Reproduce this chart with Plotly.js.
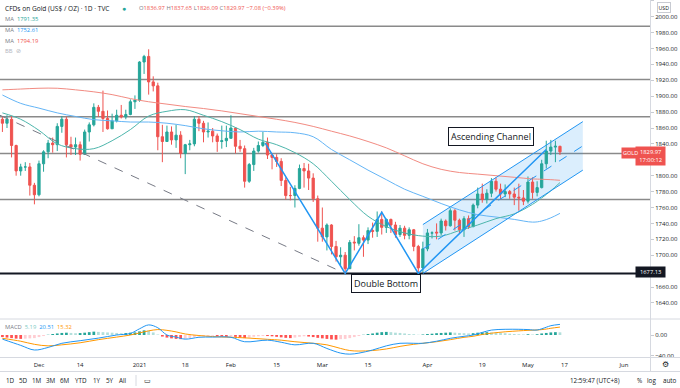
<!DOCTYPE html>
<html><head><meta charset="utf-8">
<script src="https://cdn.plot.ly/plotly-3.0.1.min.js"></script>
<style>html,body{margin:0;padding:0;background:#fff;overflow:hidden}#chart{width:680px;height:388px}</style>
</head><body><div id="chart"></div>
<script>
// ---------- DATA ----------
const dates = [
'2020-11-19','2020-11-20','2020-11-23','2020-11-24','2020-11-25','2020-11-26','2020-11-27','2020-11-30',
'2020-12-01','2020-12-02','2020-12-03','2020-12-04','2020-12-07','2020-12-08','2020-12-09','2020-12-10','2020-12-11',
'2020-12-14','2020-12-15','2020-12-16','2020-12-17','2020-12-18','2020-12-21','2020-12-22','2020-12-23','2020-12-24',
'2020-12-28','2020-12-29','2020-12-30','2020-12-31',
'2021-01-04','2021-01-05','2021-01-06','2021-01-07','2021-01-08','2021-01-11','2021-01-12','2021-01-13','2021-01-14','2021-01-15',
'2021-01-18','2021-01-19','2021-01-20','2021-01-21','2021-01-22','2021-01-25','2021-01-26','2021-01-27','2021-01-28','2021-01-29',
'2021-02-01','2021-02-02','2021-02-03','2021-02-04','2021-02-05','2021-02-08','2021-02-09','2021-02-10','2021-02-11','2021-02-12',
'2021-02-15','2021-02-16','2021-02-17','2021-02-18','2021-02-19','2021-02-22','2021-02-23','2021-02-24','2021-02-25','2021-02-26',
'2021-03-01','2021-03-02','2021-03-03','2021-03-04','2021-03-05','2021-03-08','2021-03-09','2021-03-10','2021-03-11','2021-03-12',
'2021-03-15','2021-03-16','2021-03-17','2021-03-18','2021-03-19','2021-03-22','2021-03-23','2021-03-24','2021-03-25','2021-03-26',
'2021-03-29','2021-03-30','2021-03-31',
'2021-04-01','2021-04-02','2021-04-05','2021-04-06','2021-04-07','2021-04-08','2021-04-09','2021-04-12','2021-04-13','2021-04-14',
'2021-04-15','2021-04-16','2021-04-19','2021-04-20','2021-04-21','2021-04-22','2021-04-23','2021-04-26','2021-04-27','2021-04-28',
'2021-04-29','2021-04-30',
'2021-05-03','2021-05-04','2021-05-05','2021-05-06','2021-05-07','2021-05-10','2021-05-11','2021-05-12'];

const open = [1871,1866,1871,1838,1806,1811,1811,1788,
1776,1815,1830,1841,1839,1862,1871,1839,1836,1839,1827,1855,1864,1886,1881,1872,1859,1869,1876,1874,1877,1893,
1895,1943,1950,1918,1913,1849,1843,1855,1845,1851,1828,1839,1840,1871,1866,1855,1856,1850,1843,1844,
1847,1860,1837,1834,1793,1814,1831,1838,1842,1826,1823,1818,1794,1775,1775,1784,1809,1806,1797,1771,
1734,1723,1738,1711,1698,1700,1683,1716.5,1715,1722,1719,1731,1730,1745,1735,1745,1738,1726,1734,1725,1732,1711,1684,
1708,1728,1729,1728,1743,1737,1756,1744,1732,1746,1736,1763,1777,1770,1778,1793,1783,1777,1780,1777,1773,1772,
1768,1792,1779,1785,1815,1831,1836,1836.97];
const high = [1875,1876,1875,1839,1815,1817,1816,1791,
1819,1832,1845,1848,1866,1875,1874,1849,1848,1843,1858,1867,1891,1889,1907,1882,1878,1883,1889,1883,1896,1901,
1944,1952,1959,1925,1917,1864,1863,1862,1864,1856,1840,1845,1875,1875,1869,1867,1860,1853,1863,1863,
1876,1860,1845,1838,1816,1835,1843,1855,1848,1828,1827,1822,1798,1786,1788,1814,1816,1815,1803,1775,
1760,1740,1739,1718,1710,1704,1719,1724,1739,1725,1735,1741,1755,1755,1746,1746,1742,1738,1737,1735,1733,1713,1717,
1733,1730,1740,1746,1745,1759,1758,1746,1749,1750,1765,1785,1790,1783,1797,1798,1790,1789,1782,1785,1790,1782,
1799,1798,1793,1820,1844,1845,1844,1837.65];
const low = [1855,1860,1823,1800,1800,1806,1775,1764,
1774,1805,1822,1829,1831,1854,1823,1826,1826,1819,1826,1843,1862,1874,1855,1858,1859,1867,1872,1871,1876,1884,
1893,1928,1902,1906,1832,1817,1843,1839,1835,1822,1802,1832,1837,1856,1842,1848,1842,1830,1834,1836,
1847,1828,1830,1785,1791,1806,1829,1836,1821,1808,1811,1787,1770,1769,1760,1783,1785,1782,1767,1717,
1717,1706,1701,1692,1687,1677,1683,1706,1712,1698,1714,1722,1723,1726,1728,1728,1722,1723,1720,1720,1705,1677,1678,
1705,1721,1720,1725,1731,1736,1731,1727,1723,1733,1735,1759,1766,1765,1773,1780,1770,1773,1771,1763,1756,1763,
1765,1771,1774,1784,1809,1826,1817,1826.09];
const close = [1866,1871,1838,1806,1811,1811,1788,1776,
1815,1830,1841,1839,1862,1871,1839,1836,1839,1827,1855,1864,1886,1881,1872,1859,1869,1876,1874,1877,1893,1895,
1943,1950,1918,1913,1849,1843,1855,1845,1851,1828,1839,1840,1871,1866,1855,1856,1850,1843,1844,1847,
1860,1837,1834,1793,1814,1831,1838,1842,1826,1823,1818,1794,1775,1775,1784,1809,1806,1797,1771,1734,
1723,1738,1711,1698,1700,1683,1716,1715.5,1722,1719,1731,1730,1745,1735,1745,1738,1726,1734,1725,1732,1711,1684,1708,
1728,1728,1728,1743,1737,1756,1744,1732,1746,1736,1763,1777,1770,1778,1793,1783,1777,1780,1777,1773,1772,1768,
1792,1779,1785,1815,1831,1836,1837,1829.97];

// Moving averages at sample dates
const maDates = ['2020-11-19','2020-11-25','2020-12-01','2020-12-07','2020-12-11','2020-12-17','2020-12-23','2020-12-30',
'2021-01-06','2021-01-12','2021-01-18','2021-01-22','2021-01-28','2021-02-03','2021-02-09','2021-02-15','2021-02-19','2021-02-25',
'2021-03-03','2021-03-09','2021-03-15','2021-03-19','2021-03-25','2021-03-31','2021-04-06','2021-04-12','2021-04-16','2021-04-22',
'2021-04-28','2021-05-04','2021-05-06','2021-05-10','2021-05-12'];
const ma20 = [1879,1871,1857,1840,1834,1834,1844,1858,1875,1881,1883,1876,1868,1858,1846,1839,1829,1815,1793,1770,1749,1736,1728,1724,1724,1731,1738,1746,1752,1764,1772,1781,1791.35];
const ma50 = [1901.5,1891,1885,1879,1874.5,1870.5,1869,1867.5,1867.5,1866,1863,1859,1856.5,1855,1856,1855,1854,1849,1833,1820,1807,1795,1783,1774,1765,1757,1751,1748,1745,1741.6,1743,1747,1752.61];
const ma100 = [1908,1909,1910,1910,1908,1905.5,1902,1897,1893,1890,1887,1884.5,1881.5,1878,1874.5,1871,1867,1862,1856,1850,1843,1835,1825,1815,1808,1804,1802,1800,1798,1796,1795.5,1795,1794.19];

// MACD (12,26,9)
const macdDates = ['2020-11-19','2020-11-25','2020-11-30','2020-12-03','2020-12-08','2020-12-14','2020-12-18','2020-12-24','2020-12-30',
'2021-01-04','2021-01-06','2021-01-08','2021-01-12','2021-01-14','2021-01-18','2021-01-21','2021-01-26','2021-02-01','2021-02-04',
'2021-02-11','2021-02-16','2021-02-19','2021-02-25','2021-03-02','2021-03-05','2021-03-09','2021-03-11','2021-03-16','2021-03-19',
'2021-03-24','2021-03-29','2021-03-31','2021-04-05','2021-04-08','2021-04-13','2021-04-15','2021-04-19','2021-04-21','2021-04-26',
'2021-04-29','2021-05-03','2021-05-05','2021-05-07','2021-05-10','2021-05-12'];
const macdLine = [-8,-20,-29,-24,-16,-11,-6,0,3,12,19.5,14,0,-4,-8,-4.4,-4,-4.4,-13,-10,-14,-19,-16,-26,-35,-37,-35,-29,-21,-16,-16,-16,-12,-6.4,-2.5,0,5,9.5,11,11,10.5,9.7,15,18,20.51];
const signalLine = [-6.4,-12,-18,-21,-19,-15,-9,-4,0,4,8,10.5,9,6,2,-1,-3,-4.4,-5.5,-8.3,-10,-13,-16,-19,-26,-30,-31,-30,-27,-22,-18,-16,-13,-9,-4.5,-2.5,1,3.5,6.2,8,9,9.7,11.5,13,15.32];
const histValues = [-4,-5,-6,-7,-7.5,-7,-6.5,-6,
-4,-2,0.5,2,3,4,4.5,4,3.5,3.8,4.5,5.5,6.5,6,5.5,5,4.5,4,3.5,3.8,4.5,5,
7,9,8.5,5,1,-3,-5,-6.5,-7.5,-8,-7.5,-6,-4,-3,-2.5,-2,-1.5,-2.5,-3,-3.5,
-3,-3.5,-4.5,-6,-5,-3.5,-2.5,-2,-2,-2.5,-3.5,-4.5,-5.5,-6,-5,-3.5,-2.5,-3,-4,-5.5,
-6.5,-7.5,-8.5,-9,-8,-7.5,-6,-4,-2,0.5,2,3,4.5,5.5,6,5.5,4.5,4,3,2,1.5,0.5,1,
2,2.5,3.5,4,4.5,5,4.5,4,3.5,3,3.5,4.5,5,5.5,5,4.5,4,3.5,2.5,2,1.5,1,
1.5,1,1.5,3,4,5,5.5,5.19];

const tickLabels = ['Dec','14','2021','18','Feb','15','Mar','15','Apr','19','May','17','Jun'];
const priceTicks = [1640,1660,1700,1720,1740,1760,1780,1800,1840,1860,1880,1900,1920,1940,1960,1980,2000,2020];
const levels = [1988, 1921, 1874, 1828, 1770];
const supportLevel = 1677.13;
const lastPrice = 1829.97;

// ---------- HELPERS ----------
const W = 680, H = 388, M = {l:0, r:30, t:0, b:31};
const PW = W - M.l - M.r, PH = H - M.t - M.b;
const px = x => x / PW;            // pixel -> paper x
const py = y => (PH - y) / PH;     // pixel -> paper y
const pos = d => dates.indexOf(d);
const xs = dates.map((d, i) => i);
const FONT = 'Open Sans, sans-serif';
const GREEN = '#26a69a', RED = '#ef5350';

const tickPos = [pos('2020-12-01'), pos('2020-12-14'), pos('2021-01-04'), pos('2021-01-18'), pos('2021-02-01'),
  pos('2021-02-15'), pos('2021-03-01'), pos('2021-03-15'), pos('2021-04-01'), pos('2021-04-19'), pos('2021-05-03'),
  dates.length + 0, dates.length + 13];

const histColors = histValues.map((v, i) => {
  const p = i > 0 ? histValues[i - 1] : v;
  if (v >= 0) return v >= p ? '#26a69a' : '#b2dfdb';
  return v <= p ? '#ff5252' : '#ffcdd2';
});

const traces = [
  {type:'scatter', mode:'lines', x:maDates.map(pos), y:ma100, line:{color:'#f28b82', width:1, shape:'spline'}, hoverinfo:'skip'},
  {type:'scatter', mode:'lines', x:maDates.map(pos), y:ma50, line:{color:'#64b5f6', width:1, shape:'spline'}, hoverinfo:'skip'},
  {type:'scatter', mode:'lines', x:maDates.map(pos), y:ma20, line:{color:'#4db6ac', width:1, shape:'spline'}, hoverinfo:'skip'},
  {type:'candlestick', x:xs, open:open, high:high, low:low, close:close, whiskerwidth:0,
   increasing:{line:{color:GREEN, width:1}, fillcolor:GREEN},
   decreasing:{line:{color:RED, width:1}, fillcolor:RED}, hoverinfo:'skip'},
  {type:'bar', x:xs, y:histValues, yaxis:'y2', marker:{color:histColors, line:{width:0}}, width:0.6, hoverinfo:'skip'},
  {type:'scatter', mode:'lines', x:macdDates.map(pos), y:signalLine, yaxis:'y2', line:{color:'#ff9800', width:1, shape:'spline'}, hoverinfo:'skip'},
  {type:'scatter', mode:'lines', x:macdDates.map(pos), y:macdLine, yaxis:'y2', line:{color:'#2196f3', width:1, shape:'spline'}, hoverinfo:'skip'}
];

// ---------- DRAWINGS ----------
const chL = 92, chR = 127;
const chLow = [1677, 1807], chUp = [1738.5, 1868];
const BLUE = '#2196f3';
const shapes = [];
levels.forEach(l => shapes.push({type:'line', xref:'paper', yref:'y', x0:0, x1:1, y0:l, y1:l, line:{color:'#8a8a8a', width:1.5}, layer:'below'}));
shapes.push({type:'line', xref:'paper', yref:'y', x0:0, x1:1, y0:supportLevel, y1:supportLevel, line:{color:'#131722', width:2}});
shapes.push({type:'path', xref:'x', yref:'y', path:`M ${chL},${chLow[0]} L ${chL},${chUp[0]} L ${chR},${chUp[1]} L ${chR},${chLow[1]} Z`,
  fillcolor:'rgba(33,150,243,0.16)', line:{width:0}, layer:'below'});
shapes.push({type:'line', xref:'x', yref:'y', x0:chL, x1:chR, y0:chLow[0], y1:chLow[1], line:{color:BLUE, width:1}});
shapes.push({type:'line', xref:'x', yref:'y', x0:chL, x1:chR, y0:chUp[0], y1:chUp[1], line:{color:BLUE, width:1}});
shapes.push({type:'line', xref:'x', yref:'y', x0:chL, x1:chR, y0:(chLow[0]+chUp[0])/2, y1:(chLow[1]+chUp[1])/2, line:{color:BLUE, width:1, dash:'dash'}});
shapes.push({type:'path', xref:'x', yref:'y', path:'M 57.5,1841 L 75,1677 L 83,1754 L 91,1677 L 119,1833', line:{color:BLUE, width:1.5}});
shapes.push({type:'line', xref:'x', yref:'y', x0:-0.53, y0:1876, x1:75, y1:1677, line:{color:'#787b86', width:1, dash:'dash'}});
// pane separators
shapes.push({type:'line', xref:'paper', yref:'paper', x0:0, x1:px(680), y0:py(319), y1:py(319), line:{color:'#d6d9e0', width:1}});
shapes.push({type:'line', xref:'paper', yref:'paper', x0:0, x1:px(680), y0:py(357.5), y1:py(357.5), line:{color:'#d6d9e0', width:1}});
shapes.push({type:'line', xref:'paper', yref:'paper', x0:0, x1:px(680), y0:py(371.5), y1:py(371.5), line:{color:'#d6d9e0', width:1}});
shapes.push({type:'line', xref:'paper', yref:'paper', x0:px(650.5), x1:px(650.5), y0:1, y1:py(371.5), line:{color:'#d6d9e0', width:1}});
shapes.push({type:'line', xref:'paper', yref:'paper', x0:px(136), x1:px(136), y0:py(375), y1:py(386), line:{color:'#d6d9e0', width:1}});

// ---------- TEXT ----------
const G = '#787b86';
const ann = [];
const txt = (x, y, text, size, color, anchor, extra) => ann.push(Object.assign({xref:'paper', yref:'paper', x:px(x), y:py(y), text:text,
  showarrow:false, xanchor:anchor || 'left', yanchor:'middle', font:{family:FONT, size:size, color:color}}, extra || {}));

txt(3, 8, 'CFDs on Gold (US$ / OZ) · 1D · TVC', 6.6, '#131722');
txt(124, 8, '●', 7, GREEN, 'center');
txt(137, 8, `<span style="color:${G}">O</span>1836.97 <span style="color:${G}">H</span>1837.65 <span style="color:${G}">L</span>1826.09 <span style="color:${G}">C</span>1829.97 −7.08 (−0.39%)`, 5.8, RED);
txt(3, 19, `<span style="color:${G}">MA</span>  <span style="color:${GREEN}">1791.35</span>`, 5.8, G);
txt(3, 30, `<span style="color:${G}">MA</span>  <span style="color:${BLUE}">1752.61</span>`, 5.8, G);
txt(3, 41, `<span style="color:${G}">MA</span>  <span style="color:${RED}">1794.19</span>`, 5.8, G);
txt(3, 51, 'BB  ⊘', 5.8, '#b2b5be');
txt(3, 327, `<span style="color:${G}">MACD</span>  <span style="color:#80cbc4">5.19</span>  <span style="color:${BLUE}">20.51</span>  <span style="color:#ff9800">15.32</span>`, 5.8, G);

// toolbar
[['1D',10],['5D',23],['1M',37],['3M',51],['6M',65],['YTD',81],['1Y',97],['5Y',110],['All',123]].forEach(t => txt(t[1], 380, t[0], 6.3, '#131722', 'center'));
txt(147, 380, '▭', 7, '#131722', 'center');
txt(595, 380, '12:59:47 (UTC+8)', 6.3, '#131722', 'center');
txt(639, 380, '%', 6.3, '#131722', 'center');
txt(652, 380, 'log', 6.3, '#131722', 'center');
txt(670, 380, 'auto', 6.3, '#131722', 'center');
txt(665, 364.5, '⚙', 8, '#131722', 'center', {font:{family:'DejaVu Sans', size:8, color:'#131722'}});
txt(664, 7.5, 'USD', 5.2, '#131722', 'center', {bordercolor:'#c8cbd2', borderwidth:1, borderpad:0.5, bgcolor:'#fff'});

// chart labels
ann.push({xref:'x', yref:'y', x:106.9, y:1848.7, text:'Ascending Channel', showarrow:false, font:{family:FONT, size:9, color:'#131722'},
  bgcolor:'#fff', bordercolor:'#131722', borderwidth:1, borderpad:2});
ann.push({xref:'x', yref:'y', x:83.9, y:1663.8, text:'Double Bottom', showarrow:false, font:{family:FONT, size:9, color:'#131722'},
  bgcolor:'#fff', bordercolor:'#131722', borderwidth:1, borderpad:2});
// axis price tags
ann.push({xref:'paper', yref:'y', x:px(665.5), y:lastPrice, yshift:-4, text:'1829.97<br>17:00:12', showarrow:false, align:'center',
  font:{family:FONT, size:5.8, color:'#fff'}, bgcolor:RED, borderpad:1.2, width:27});
ann.push({xref:'paper', yref:'y', x:px(640), y:lastPrice, yshift:-1, text:'GOLD', showarrow:false,
  font:{family:FONT, size:5.5, color:'#fff'}, bgcolor:RED, borderpad:1});
ann.push({xref:'paper', yref:'y', x:px(665.5), y:supportLevel, yshift:1.4, text:'1677.13', showarrow:false,
  font:{family:FONT, size:5.8, color:'#fff'}, bgcolor:'#131722', borderpad:1.2, width:27});

const layout = {
  width:W, height:H, margin:M, paper_bgcolor:'#fff', plot_bgcolor:'#fff', showlegend:false,
  font:{family:FONT, size:6, color:'#131722'},
  xaxis:{range:[-0.53, 141.7], anchor:'y2', showgrid:false, zeroline:false, showline:false, rangeslider:{visible:false},
    tickmode:'array', tickvals:tickPos, ticktext:tickLabels, ticks:'outside', ticklen:2, tickcolor:'rgba(0,0,0,0)',
    tickfont:{family:FONT, size:6, color:'#131722'}, fixedrange:true},
  yaxis:{domain:[py(318), 1], range:[1621, 2021], side:'right', tickmode:'array', tickvals:priceTicks, tickformat:'.2f', showgrid:false, zeroline:false,
    ticks:'outside', ticklen:3, tickcolor:'#c8cbd2', tickfont:{family:FONT, size:6, color:'#131722'}, showline:false, fixedrange:true},
  yaxis2:{domain:[0, py(320)], range:[-42.5, 29], side:'right', tickmode:'array', tickvals:[-40, 0], tickformat:'.2f', showgrid:false, zeroline:false,
    ticks:'outside', ticklen:3, tickcolor:'#c8cbd2', tickfont:{family:FONT, size:6, color:'#131722'}, showline:false, fixedrange:true},
  bargap:0.3,
  shapes:shapes, annotations:ann
};

Plotly.newPlot('chart', traces, layout, {staticPlot:true, displayModeBar:false});
</script></body></html>
